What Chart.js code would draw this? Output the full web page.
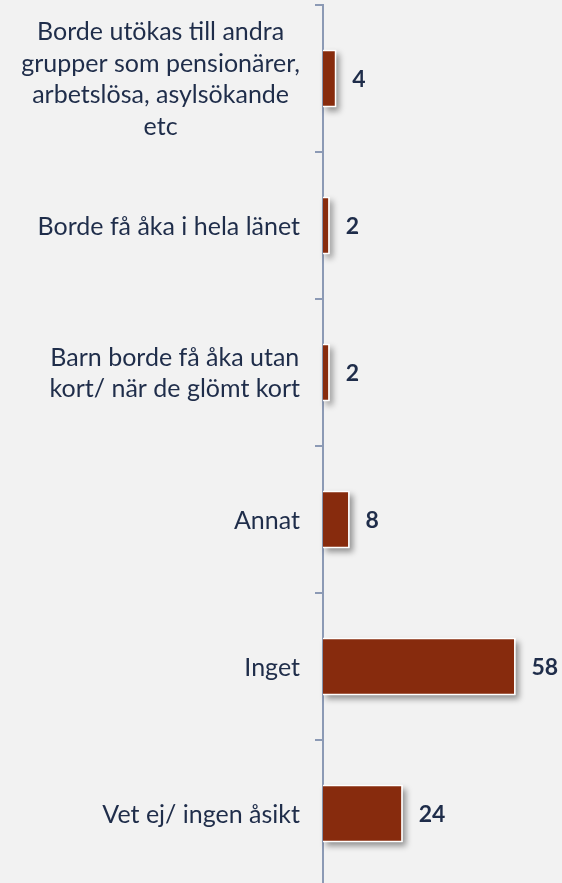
<!DOCTYPE html>
<html>
<head>
<meta charset="utf-8">
<script src="https://cdn.jsdelivr.net/npm/chart.js@4"></script>
<style>
  html, body { margin: 0; padding: 0; background: #f2f2f2; overflow: hidden; }
  #wrap { position: relative; width: 562px; height: 890px; }
</style>
</head>
<body>
<div id="wrap"><canvas id="bar-chart"></canvas></div>
<script>
const categories = [
    ['Borde utökas till andra', 'grupper som pensionärer,', 'arbetslösa, asylsökande', 'etc'],
    'Borde få åka i hela länet',
    ['Barn borde få åka utan', 'kort/ när de glömt kort'],
    'Annat',
    'Inget',
    'Vet ej/ ingen åsikt'
];
const values = [4, 2, 2, 8, 58, 24];

const barColor = '#872b0d';
const textColor = '#1f2d4a';
const axisColor = '#8c9ab5';
const labelFont = '25px Lato, "Open Sans", sans-serif';

// soft drop shadow behind each bar
const barShadow = {
    id: 'barShadow',
    beforeDatasetsDraw(chart) {
        const ctx = chart.ctx;
        const meta = chart.getDatasetMeta(0);
        ctx.save();
        ctx.shadowColor = 'rgba(0,0,0,0.4)';
        ctx.shadowBlur = 6;
        ctx.shadowOffsetX = 3;
        ctx.shadowOffsetY = 4;
        ctx.fillStyle = '#ffffff';
        meta.data.forEach(bar => {
            const h = bar.height;
            ctx.fillRect(bar.base, bar.y - h / 2, bar.x - bar.base, h);
        });
        ctx.restore();
    }
};

const valueLabels = {
    id: 'valueLabels',
    afterDatasetsDraw(chart) {
        const ctx = chart.ctx;
        const meta = chart.getDatasetMeta(0);
        ctx.save();
        ctx.font = 'bold 23px Lato, "Open Sans", sans-serif';
        ctx.fillStyle = textColor;
        ctx.textAlign = 'left';
        ctx.textBaseline = 'middle';
        meta.data.forEach((bar, i) => {
            ctx.fillText(values[i], bar.x + 16, bar.y + 1);
        });
        ctx.restore();
    }
};

// category labels: block right-aligned to the axis, lines centred inside the block
const categoryLabels = {
    id: 'categoryLabels',
    afterDraw(chart) {
        const ctx = chart.ctx;
        const scale = chart.scales.y;
        const right = scale.right - 23;
        const lh = 31.5;
        ctx.save();
        ctx.font = labelFont;
        ctx.fillStyle = textColor;
        ctx.textAlign = 'center';
        ctx.textBaseline = 'middle';
        categories.forEach((label, i) => {
            const lines = Array.isArray(label) ? label : [label];
            const w = Math.max(...lines.map(l => ctx.measureText(l).width));
            const cx = right - w / 2;
            const y = scale.getPixelForTick(i);
            lines.forEach((line, j) => {
                ctx.fillText(line, cx, y + (j - (lines.length - 1) / 2) * lh + 1);
            });
        });
        ctx.restore();
    }
};

new Chart(document.getElementById('bar-chart'), {
    type: 'bar',
    data: {
        labels: categories,
        datasets: [{
            data: values,
            backgroundColor: barColor,
            borderColor: '#ffffff',
            borderWidth: 1.5,
            borderSkipped: 'start',
            barPercentage: 0.39,
            categoryPercentage: 1
        }]
    },
    options: {
        indexAxis: 'y',
        responsive: true,
        maintainAspectRatio: false,
        animation: false,
        layout: { padding: { top: 5, bottom: 3, left: 0, right: 0 } },
        plugins: {
            legend: { display: false },
            tooltip: { enabled: false }
        },
        scales: {
            x: {
                display: false,
                min: 0,
                max: 72
            },
            y: {
                afterFit(scale) {
                    scale.width = 323;
                    scale.paddingTop = 0;
                    scale.paddingBottom = 0;
                },
                border: { display: true, color: axisColor, width: 2 },
                grid: {
                    offset: true,
                    drawOnChartArea: false,
                    drawTicks: true,
                    tickLength: 8,
                    color: axisColor,
                    lineWidth: 2
                },
                ticks: {
                    padding: 15,
                    color: 'transparent',
                    font: { family: 'Lato, "Open Sans", sans-serif', size: 25, lineHeight: 1.26 }
                }
            }
        }
    },
    plugins: [barShadow, valueLabels, categoryLabels]
});
</script>
</body>
</html>
